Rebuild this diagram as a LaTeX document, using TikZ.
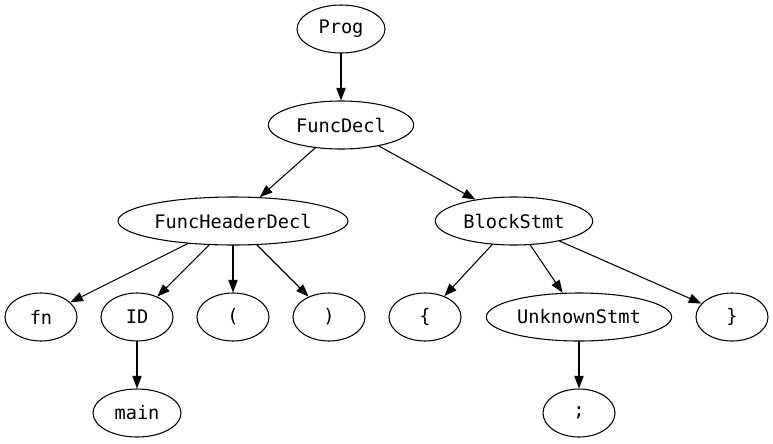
\documentclass[tikz,border=0pt]{standalone}
\usepackage{fontspec}
\setmonofont{DejaVu Sans Mono}
\usetikzlibrary{shapes.geometric,arrows.meta}
\begin{document}
\begin{tikzpicture}[x=0.75pt, y=-0.75pt, line width=0.8pt, line join=round, line cap=round,
font=\ttfamily\fontsize{14}{16}\selectfont, >={Triangle[length=9.5pt,width=7pt]},
nd/.style={draw, ellipse, inner sep=0pt, minimum width=54pt, minimum height=36pt}]
\useasboundingbox (0,0) rectangle (773,443);
% levels
\node[nd, minimum width=66pt] (prog) at (341,29) {Prog};
\node[nd, minimum width=109pt] (funcdecl) at (341,125) {FuncDecl};
\node[nd, minimum width=172.5pt] (header) at (233,221) {FuncHeaderDecl};
\node[nd, minimum width=118pt] (block) at (514,221) {BlockStmt};
\node[nd] (fn) at (41,317) {fn};
\node[nd] (id) at (137,317) {ID};
\node[nd] (lpar) at (233,317) {(};
\node[nd] (rpar) at (329,317) {)};
\node[nd] (lbrace) at (425,317) {\{};
\node[nd, minimum width=139pt] (unknown) at (579,317) {UnknownStmt};
\node[nd] (rbrace) at (732,317) {\}};
\node[nd, minimum width=66pt] (main) at (137,413) {main};
\node[nd] (semi) at (579,413) {;};
% edges
\draw[->] (prog)--(funcdecl);
\draw[->] (funcdecl)--(header);
\draw[->] (funcdecl)--(block);
\foreach \c in {fn,id,lpar,rpar} \draw[->] (header)--(\c);
\foreach \c in {lbrace,unknown,rbrace} \draw[->] (block)--(\c);
\draw[->] (id)--(main);
\draw[->] (unknown)--(semi);
\end{tikzpicture}
\end{document}
